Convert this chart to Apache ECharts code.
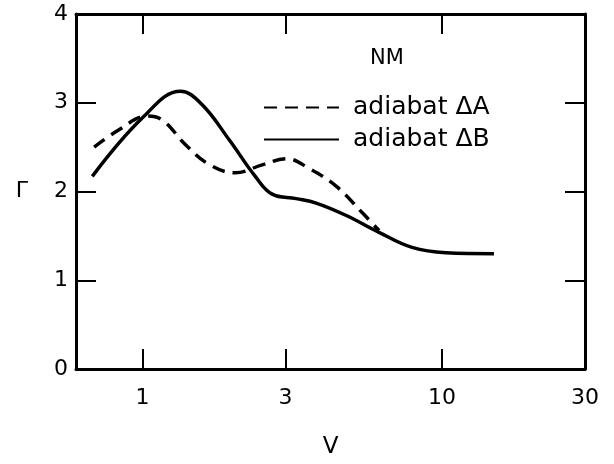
<!DOCTYPE html>
<html>
<head>
<meta charset="utf-8">
<script src="https://cdn.jsdelivr.net/npm/echarts@6/dist/echarts.min.js"></script>
<style>
html,body{margin:0;padding:0;background:#fff;overflow:hidden;}
#c{width:614px;height:464px;}
</style>
</head>
<body>
<div id="c"></div>
<script>
// Data
var vA =     [0.69, 0.83, 1.04, 1.17, 1.39, 1.66, 2.04, 2.51, 3.02, 3.6, 4.43, 5.42, 6.16];
var gammaA = [2.50, 2.69, 2.85, 2.80, 2.53, 2.31, 2.21, 2.30, 2.37, 2.26, 2.06, 1.76, 1.56];
var vB =     [0.68, 1.0, 1.34, 1.58, 1.95, 2.38, 2.71, 3.26, 3.8, 4.79, 6.16, 7.94, 10.3, 14.9];
var gammaB = [2.17, 2.83, 3.13, 2.98, 2.58, 2.17, 1.97, 1.92, 1.87, 1.73, 1.54, 1.37, 1.31, 1.30];
var xTickLabels = [1, 3, 10, 30];
var xTicks = [1, 3, 10];
var yTicks = [1, 2, 3];
var nameA = 'adiabat \u0394A';
var nameB = 'adiabat \u0394B';
var title = 'NM';

function pairs(xs, ys){ return xs.map(function(x,i){ return [x, ys[i]]; }); }

var FONT = 'DejaVu Sans';
var chart = echarts.init(document.getElementById('c'), null, {renderer:'canvas'});
chart.setOption({
  backgroundColor: '#fff',
  animation: false,
  grid: {left: 76, right: 29, top: 14, bottom: 87},
  title: {text: title, left: 387, top: 48, textAlign: 'center', padding: 0,
          textStyle: {fontFamily: FONT, fontSize: 21, fontWeight: 'normal', color: '#000'}},
  legend: {
    orient: 'vertical', left: 263, top: 95, itemGap: 7, padding: 0,
    itemWidth: 75, itemHeight: 14,
    itemStyle: {opacity: 0},
    data: [{name: nameA}, {name: nameB}],
    textStyle: {fontFamily: FONT, fontSize: 25, lineHeight: 25, color: '#000', padding: [0,0,0,9]}
  },
  xAxis: [{
    type: 'log', logBase: 10, min: 0.6, max: 30,
    name: 'V', nameLocation: 'middle', nameGap: 67,
    nameTextStyle: {fontFamily: FONT, fontSize: 23, color: '#000'},
    axisLine: {show: true, onZero: false, lineStyle: {color: '#000', width: 3}},
    axisTick: {show: true, inside: true, length: 20, lineStyle: {color: '#000', width: 2}, customValues: xTicks},
    axisLabel: {show: true, customValues: xTickLabels, margin: 18, fontFamily: FONT, fontSize: 22, color: '#000'},
    splitLine: {show: false}, minorTick: {show: false}
  }, {
    type: 'log', logBase: 10, min: 0.6, max: 30, position: 'top',
    axisLine: {show: true, onZero: false, lineStyle: {color: '#000', width: 3}},
    axisTick: {show: true, inside: true, length: 20, lineStyle: {color: '#000', width: 2}, customValues: xTicks},
    axisLabel: {show: false}, splitLine: {show: false}
  }],
  yAxis: [{
    type: 'value', min: 0, max: 4, interval: 1,
    name: '\u0393', nameLocation: 'middle', nameGap: 48, nameRotate: 0,
    nameTextStyle: {fontFamily: FONT, fontSize: 22, color: '#000'},
    axisLine: {show: true, onZero: false, lineStyle: {color: '#000', width: 3}},
    axisTick: {show: true, inside: true, length: 20, lineStyle: {color: '#000', width: 2}, customValues: yTicks},
    axisLabel: {margin: 8, fontFamily: FONT, fontSize: 22, color: '#000'},
    splitLine: {show: false}
  }, {
    type: 'value', min: 0, max: 4, interval: 1, position: 'right',
    axisLine: {show: true, onZero: false, lineStyle: {color: '#000', width: 3}},
    axisTick: {show: true, inside: true, length: 20, lineStyle: {color: '#000', width: 2}, customValues: yTicks},
    axisLabel: {show: false}, splitLine: {show: false}
  }],
  series: [{
    name: nameA, type: 'line', smooth: 0.4, symbol: 'none',
    xAxisIndex: 0, yAxisIndex: 0,
    data: pairs(vA, gammaA),
    lineStyle: {color: '#000', width: 3.5, type: [13, 8]},
    itemStyle: {color: '#000'}
  }, {
    name: nameB, type: 'line', smooth: 0.4, symbol: 'none',
    xAxisIndex: 1, yAxisIndex: 1,
    data: pairs(vB, gammaB),
    lineStyle: {color: '#000', width: 3.5, type: 'solid'},
    itemStyle: {color: '#000'}
  }]
});
</script>
</body>
</html>
